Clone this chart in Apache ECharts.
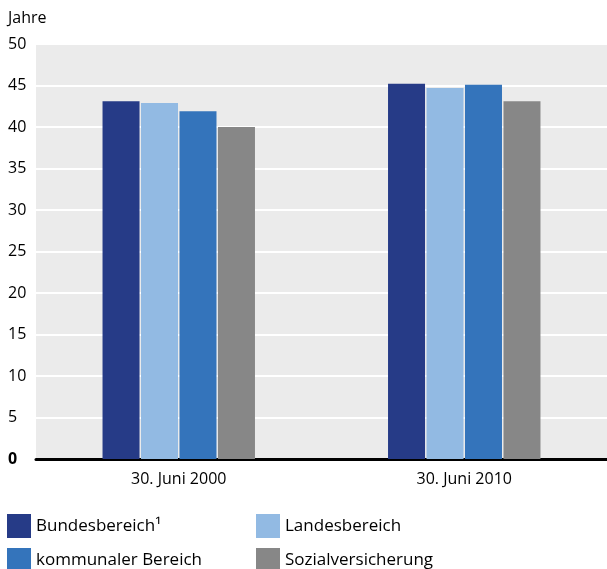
<!DOCTYPE html>
<html>
<head>
<meta charset="utf-8">
<script src="https://cdn.jsdelivr.net/npm/echarts@6/dist/echarts.min.js"></script>
<style>
  html, body { margin: 0; padding: 0; background: #fff; }
  #chart { width: 607px; height: 569px; }
</style>
</head>
<body>
<div id="chart"></div>
<script>
const categories = ["30. Juni 2000", "30. Juni 2010"];
const seriesNames = ["Bundesbereich¹", "Landesbereich", "kommunaler Bereich", "Sozialversicherung"];
const bundes = [43.1, 45.2];
const landes = [42.9, 44.7];
const kommunal = [41.9, 45.1];
const sozial = [40.0, 43.1];
const colors = ["#263b87", "#92bae3", "#3474bb", "#878787"];

const font = "'Open Sans', sans-serif";
const chart = echarts.init(document.getElementById("chart"));

const values = [bundes, landes, kommunal, sozial];
const series = seriesNames.map((name, i) => ({
  name: name,
  type: "bar",
  data: values[i],
  barWidth: 37,
  barGap: "4%",
  itemStyle: { color: colors[i] },
  silent: true
}));

// one legend per item, placed in a 2x2 block
const legendPos = [[7, 514], [256, 514], [7, 548], [256, 548]];
const legends = seriesNames.map((name, i) => ({
  data: [name],
  left: legendPos[i][0],
  top: legendPos[i][1],
  padding: 0,
  itemWidth: 24,
  itemHeight: 24,
  icon: "rect",
  textStyle: { fontSize: 17, color: "#000", fontFamily: font },
  selectedMode: false
}));

chart.setOption({
  animation: false,
  textStyle: { fontFamily: font },
  grid: { left: 36, right: 0, top: 44, bottom: 110 },
  graphic: [
    {
      type: "text",
      left: 8,
      top: 10,
      style: { text: "Jahre", fontSize: 16, fontFamily: font, fill: "#000" }
    }
  ],
  legend: legends,
  xAxis: {
    type: "category",
    data: categories,
    axisLine: { show: true, lineStyle: { color: "#000", width: 3 } },
    axisTick: { show: false },
    axisLabel: { fontSize: 16, color: "#000", margin: 12 },
    splitArea: { show: false }
  },
  yAxis: {
    type: "value",
    min: 0,
    max: 50,
    interval: 5,
    axisLine: { show: false },
    axisTick: { show: false },
    axisLabel: {
      fontSize: 16,
      color: "#000",
      align: "left",
      margin: 28,
      formatter: function (v) { return v === 0 ? "{b|0}" : String(v); },
      rich: { b: { fontWeight: "bold", fontSize: 16, color: "#000" } }
    },
    splitLine: { show: true, lineStyle: { color: "#ffffff", width: 2 } },
    splitArea: { show: true, areaStyle: { color: ["#ebebeb", "#ebebeb"] } }
  },
  series: series
});
</script>
</body>
</html>
